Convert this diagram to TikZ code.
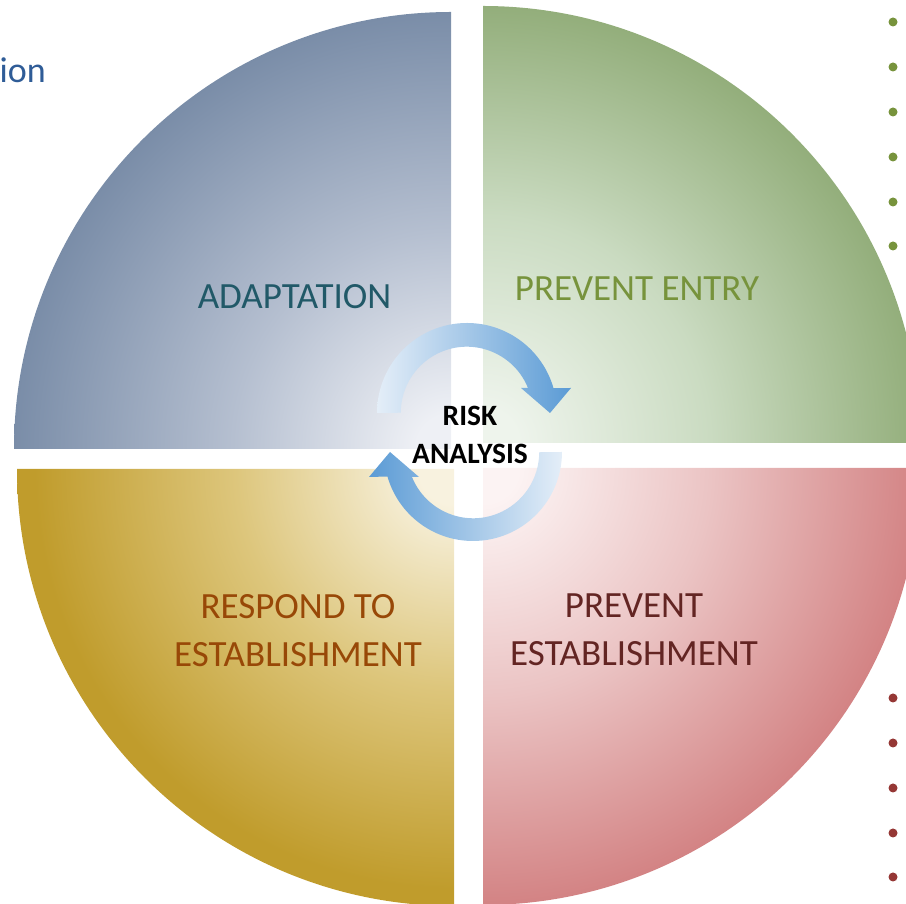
\documentclass[tikz,border=0pt]{standalone}
\usepackage{fontspec}
\setmainfont{Carlito}
\definecolor{adaptIn}{HTML}{EEF0F5}
\definecolor{adaptMid}{HTML}{B5BFD0}
\definecolor{adaptOut}{HTML}{7A8DA8}
\definecolor{entryIn}{HTML}{EEF4EC}
\definecolor{entryMid}{HTML}{CADBC1}
\definecolor{entryOut}{HTML}{93AE7B}
\definecolor{respondIn}{HTML}{F8F2DF}
\definecolor{respondMid}{HTML}{DDC67C}
\definecolor{respondOut}{HTML}{C09C2C}
\definecolor{estabIn}{HTML}{FCF3F3}
\definecolor{estabMid}{HTML}{EBC4C4}
\definecolor{estabOut}{HTML}{D38384}
\definecolor{adaptText}{HTML}{215968}
\definecolor{entryText}{HTML}{77933C}
\definecolor{respondText}{HTML}{984807}
\definecolor{estabText}{HTML}{632523}
\definecolor{titleBlue}{HTML}{2F5C97}
\definecolor{arrBlue}{HTML}{5B9BD5}
\definecolor{arrLight}{HTML}{E4EEF8}
\definecolor{dotGreen}{HTML}{77933C}
\definecolor{dotRed}{HTML}{953735}
\usetikzlibrary{calc}
\pgfdeclareradialshading{adaptShade}{\pgfpoint{0bp}{0bp}}{color(0bp)=(adaptIn); color(2bp)=(adaptIn); color(12.5bp)=(adaptMid); color(25bp)=(adaptOut); color(50bp)=(adaptOut)}
\pgfdeclareradialshading{entryShade}{\pgfpoint{0bp}{0bp}}{color(0bp)=(entryIn); color(2bp)=(entryIn); color(13bp)=(entryMid); color(25bp)=(entryOut); color(50bp)=(entryOut)}
\pgfdeclareradialshading{respondShade}{\pgfpoint{0bp}{0bp}}{color(0bp)=(respondIn); color(2bp)=(respondIn); color(12.5bp)=(respondMid); color(24bp)=(respondOut); color(50bp)=(respondOut)}
\pgfdeclareradialshading{estabShade}{\pgfpoint{0bp}{0bp}}{color(0bp)=(estabIn); color(2bp)=(estabIn); color(13bp)=(estabMid); color(25bp)=(estabOut); color(50bp)=(estabOut)}

\begin{document}
\begin{tikzpicture}[x=1pt, y=1pt,
  quadlabel/.style={anchor=base, align=center, inner sep=0pt,
    font=\fontsize{37}{48}\selectfont},
  risklabel/.style={anchor=base, align=center, inner sep=0pt,
    font=\fontsize{29.5}{38}\selectfont\bfseries},
  bullet/.style={circle, inner sep=0pt, minimum size=9pt}
]
  \useasboundingbox (0,0) rectangle (906,904);
  \clip (0,0) rectangle (906,904);

  % quadrants
  \begin{scope}
    \clip (451,455) -- ++(-437,0) arc[start angle=180, end angle=90, radius=437pt] -- cycle;
    \shade[shading=adaptShade] (451,455) circle[radius=437pt];
  \end{scope}
  \begin{scope}
    \clip (483,461) -- ++(0,437) arc[start angle=90, end angle=0, radius=437pt] -- cycle;
    \shade[shading=entryShade] (483,461) circle[radius=437pt];
  \end{scope}
  \begin{scope}
    \clip (454,435) -- ++(-437,0) arc[start angle=180, end angle=270, radius=437pt] -- cycle;
    \shade[shading=respondShade] (454,435) circle[radius=437pt];
  \end{scope}
  \begin{scope}
    \clip (483,436) -- ++(437,0) arc[start angle=0, end angle=-90, radius=437pt] -- cycle;
    \shade[shading=estabShade] (483,436) circle[radius=437pt];
  \end{scope}

  % cycle arrows
  \shade[left color=arrLight, right color=arrBlue]
    (377,491) arc[start angle=180, end angle=16, radius=90pt]
    -- (571,516) -- (550,491) -- (521,516)
    -- (528,516) arc[start angle=22, end angle=180, radius=66pt] -- cycle;
  \shade[left color=arrBlue, right color=arrLight]
    (562,452) arc[start angle=0, end angle=-164, radius=89pt]
    -- (369,427) -- (390,452) -- (419,427)
    -- (412,427) arc[start angle=-158, end angle=0, radius=66pt] -- cycle;

  % labels
  \node[quadlabel, text=adaptText] (adapt) at (294.5,595) {ADAPTATION};
  \node[quadlabel, text=entryText] (entry) at (637,603) {PREVENT ENTRY};
  \node[quadlabel, text=respondText] (respond) at (298,237) {RESPOND TO\\ESTABLISHMENT};
  \node[quadlabel, text=estabText] (estab) at (634,238) {PREVENT\\ESTABLISHMENT};
  \node[risklabel] (risk) at (470,440) {RISK\\ANALYSIS};
  \node[anchor=base east, inner sep=0pt, text=titleBlue,
    font=\fontsize{36}{43}\selectfont] (title) at (46,821) {ion};

  % bullet dots
  \foreach \y [count=\i] in {882,837,792,747,702,658}
    \node[bullet, fill=dotGreen] (g\i) at (893,\y) {};
  \foreach \y [count=\i] in {206,161,116,71,27}
    \node[bullet, fill=dotRed] (r\i) at (893,\y) {};
\end{tikzpicture}
\end{document}
